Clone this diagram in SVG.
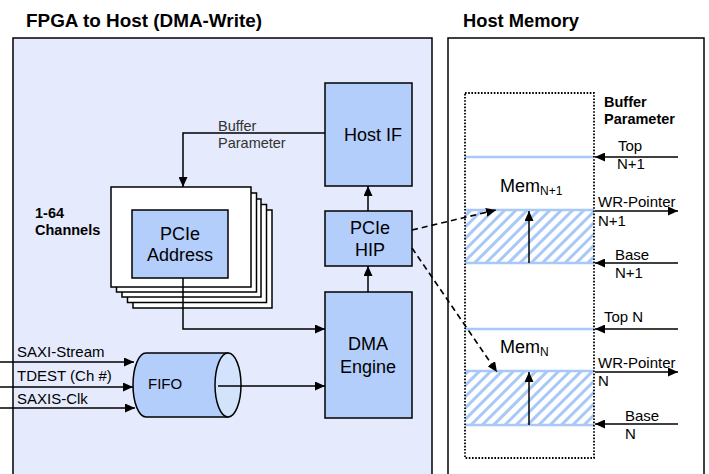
<svg xmlns="http://www.w3.org/2000/svg" width="709" height="474" viewBox="0 0 709 474">
<style>
text{font-family:"Liberation Sans",Arial,sans-serif;fill:#000}
.title{font-size:17.5px;font-weight:bold}
.big{font-size:18px}
.mid{font-size:15px}
.bold{font-size:14.5px;font-weight:bold}
.gray{font-size:14.5px;fill:#333}
.box{fill:#b3cefa;stroke:#000;stroke-width:1.5}
.card{fill:#fff;stroke:#000;stroke-width:1.5}
.ln{fill:none;stroke:#000;stroke-width:1.5}
.dash{fill:none;stroke:#000;stroke-width:1.6;stroke-dasharray:6,4}
.mem{stroke:#a8c8f8;stroke-width:2.5}
</style>
<defs>
<marker id="ah" markerUnits="userSpaceOnUse" markerWidth="11" markerHeight="9" refX="10" refY="4.5" orient="auto">
<path d="M0,0 L10,4.5 L0,9 z" fill="#000"/>
</marker>
<pattern id="hatch" patternUnits="userSpaceOnUse" width="8" height="8" patternTransform="rotate(45)">
<rect width="8" height="8" fill="#fff"/>
<rect x="0" y="0" width="3" height="8" fill="#a8c8f8"/>
</pattern>
</defs>
<rect width="709" height="474" fill="#fff"/>
<g id="titles">
<text class="title" x="26" y="27" textLength="236" lengthAdjust="spacingAndGlyphs">FPGA to Host (DMA-Write)</text>
<text class="title" x="463" y="27" textLength="116" lengthAdjust="spacingAndGlyphs">Host Memory</text>
</g>
<g id="fpga-panel">
<path d="M13,480 L13,38 L432,38 L432,480" fill="#e5ebfc" stroke="#000" stroke-width="1.5"/>
</g>
<g id="host-panel">
<path d="M448,480 L448,38 L704,38 L704,480" fill="#fff" stroke="#000" stroke-width="1.5"/>
</g>
<g id="channels-label">
<text class="bold" x="35" y="218">1-64</text>
<text class="bold" x="35" y="235">Channels</text>
</g>
<g id="channel-stack">
<rect class="card" x="133" y="210" width="139" height="98"/>
<rect class="card" x="127.5" y="204.5" width="139" height="98"/>
<rect class="card" x="122" y="199" width="139" height="98"/>
<rect class="card" x="116.5" y="193" width="140" height="99"/>
<rect class="card" x="111" y="187" width="140" height="100"/>
</g>
<g id="pcie-address">
<rect class="box" x="132" y="210" width="96" height="68"/>
<text class="big" x="180" y="240" text-anchor="middle">PCIe</text>
<text class="big" x="180" y="261" text-anchor="middle">Address</text>
</g>
<g id="host-if">
<rect class="box" x="325" y="83" width="87" height="103"/>
<text class="big" x="373" y="141" text-anchor="middle">Host IF</text>
</g>
<g id="pcie-hip">
<rect class="box" x="325" y="211" width="87" height="55"/>
<text class="big" x="370" y="234" text-anchor="middle">PCIe</text>
<text class="big" x="370" y="256" text-anchor="middle">HIP</text>
</g>
<g id="dma-engine">
<rect class="box" x="325" y="292" width="87" height="126"/>
<text class="big" x="368" y="350" text-anchor="middle">DMA</text>
<text class="big" x="368" y="373" text-anchor="middle">Engine</text>
</g>
<g id="fifo">
<path d="M146,353 L228,353 L228,417 L146,417 A13,32 0 0 1 146,353 z" fill="#b3cefa" stroke="#000" stroke-width="1.5"/>
<ellipse cx="228" cy="385" rx="13" ry="32" fill="#d3e3fc" stroke="#000" stroke-width="1.5"/>
<text class="mid" x="148" y="389">FIFO</text>
</g>
<g id="memory">
<rect x="465" y="210" width="129" height="53" fill="url(#hatch)"/>
<rect x="465" y="371" width="129" height="54" fill="url(#hatch)"/>
<line class="mem" x1="465" y1="157" x2="594" y2="157"/>
<line class="mem" x1="465" y1="210" x2="594" y2="210"/>
<line class="mem" x1="465" y1="263" x2="594" y2="263"/>
<line class="mem" x1="465" y1="329" x2="594" y2="329"/>
<line class="mem" x1="465" y1="371" x2="594" y2="371"/>
<line class="mem" x1="465" y1="425" x2="594" y2="425"/>
<rect x="465" y="93" width="129" height="365" fill="none" stroke="#000" stroke-width="1.8" stroke-dasharray="1.6,1.6"/>
<text class="big" x="500" y="192">Mem<tspan font-size="12" dy="3">N+1</tspan></text>
<text class="big" x="500" y="353">Mem<tspan font-size="12" dy="3">N</tspan></text>
</g>
<g id="labels">
<text class="gray" x="218" y="131">Buffer</text>
<text class="gray" x="218" y="148">Parameter</text>
<text class="mid" x="17" y="357">SAXI-Stream</text>
<text class="mid" x="17" y="381">TDEST (Ch #)</text>
<text class="mid" x="17" y="404">SAXIS-Clk</text>
<text class="bold" x="604" y="107" font-size="15">Buffer</text>
<text class="bold" x="604" y="124" font-size="15">Parameter</text>
<text class="mid" x="618" y="151">Top</text>
<text class="mid" x="617" y="169">N+1</text>
<text class="mid" x="598" y="207">WR-Pointer</text>
<text class="mid" x="598" y="226">N+1</text>
<text class="mid" x="615" y="260">Base</text>
<text class="mid" x="615" y="278">N+1</text>
<text class="mid" x="604" y="322">Top N</text>
<text class="mid" x="598" y="368">WR-Pointer</text>
<text class="mid" x="598" y="386">N</text>
<text class="mid" x="625" y="421">Base</text>
<text class="mid" x="625" y="439">N</text>
</g>
<g id="connectors">
<path class="ln" d="M325,133 L183,133 L183,187" marker-end="url(#ah)"/>
<path class="ln" d="M183,278 L183,329 L325,329" marker-end="url(#ah)"/>
<path class="ln" d="M368,211 L368,186" marker-end="url(#ah)"/>
<path class="ln" d="M368,292 L368,266" marker-end="url(#ah)"/>
<path class="ln" d="M0,362 L134,362" marker-end="url(#ah)"/>
<path class="ln" d="M0,387 L133,387" marker-end="url(#ah)"/>
<path class="ln" d="M0,408 L135,408" marker-end="url(#ah)"/>
<path class="ln" d="M218,386 L325,386" marker-end="url(#ah)"/>
<path class="dash" d="M412,230 L496,210" marker-end="url(#ah)"/>
<path class="dash" d="M412,248 L497,372" marker-end="url(#ah)"/>
<path class="ln" d="M529,263 L529,211" marker-end="url(#ah)"/>
<path class="ln" d="M529,425 L529,372" marker-end="url(#ah)"/>
<path class="ln" d="M678,157 L595,157" marker-end="url(#ah)"/>
<path class="ln" d="M595,211 L678,211" marker-end="url(#ah)"/>
<path class="ln" d="M678,263 L595,263" marker-end="url(#ah)"/>
<path class="ln" d="M678,329 L595,329" marker-end="url(#ah)"/>
<path class="ln" d="M595,372 L678,372" marker-end="url(#ah)"/>
<path class="ln" d="M678,424 L595,424" marker-end="url(#ah)"/>
</g>
</svg>
